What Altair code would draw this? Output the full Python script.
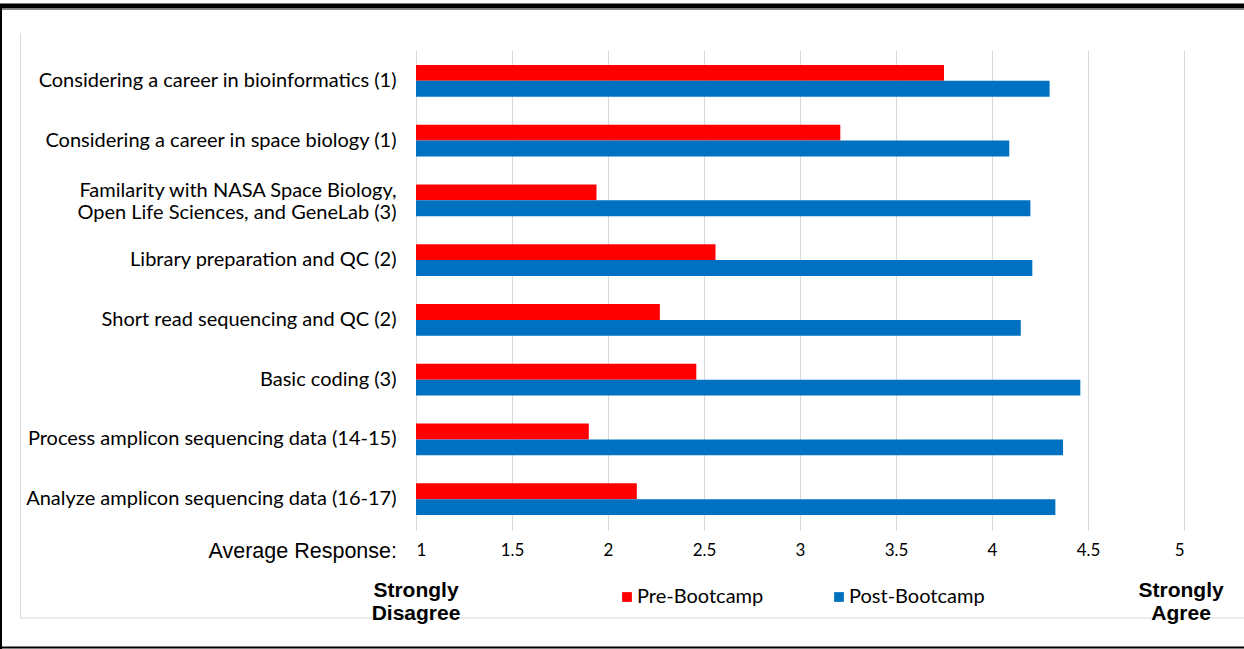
import altair as alt
import pandas as pd

categories = [
    "Considering a career in bioinformatics (1)",
    "Considering a career in space biology (1)",
    "Familarity with NASA Space Biology,|Open Life Sciences, and GeneLab (3)",
    "Library preparation and QC (2)",
    "Short read sequencing and QC (2)",
    "Basic coding (3)",
    "Process amplicon sequencing data (14-15)",
    "Analyze amplicon sequencing data (16-17)",
]
pre_values = [3.75, 3.21, 1.94, 2.56, 2.27, 2.46, 1.90, 2.15]
post_values = [4.30, 4.09, 4.20, 4.21, 4.15, 4.46, 4.37, 4.33]
series = ["Pre-Bootcamp", "Post-Bootcamp"]
colors = ["#FF0000", "#0070C0"]
x_ticks = [1, 1.5, 2, 2.5, 3, 3.5, 4, 4.5, 5]

rows = []
for c, a, b in zip(categories, pre_values, post_values):
    rows.append({"cat": c, "series": series[0], "value": a})
    rows.append({"cat": c, "series": series[1], "value": b})
df = pd.DataFrame(rows)

LABEL_FONT = "Lato"

bars = alt.Chart(df).mark_bar().encode(
    y=alt.Y("cat:N", sort=categories,
            scale=alt.Scale(paddingInner=0.4667, paddingOuter=0.25),
            axis=alt.Axis(title=None, labelExpr="split(datum.label, '|')",
                          labelFont=LABEL_FONT, labelFontSize=20, labelColor="#000",
                          labelLineHeight=22, labelPadding=20, labelLimit=420,
                          labelOffset=alt.expr("indexof(datum.value, '|') >= 0 ? -9.5 : 0"),
                          ticks=False, domain=False, grid=False)),
    yOffset=alt.YOffset("series:N", sort=series,
                        scale=alt.Scale(domain=series, paddingInner=0, paddingOuter=0)),
    x=alt.X("value:Q", scale=alt.Scale(domain=[1, 5], nice=False, zero=False),
            axis=alt.Axis(title=None, values=x_ticks, format="~g",
                          labelFont=LABEL_FONT, labelFontSize=17, labelColor="#000",
                          labelPadding=12, ticks=False, domain=False,
                          grid=True, gridColor="#d9d9d9", gridWidth=1)),
    x2=alt.datum(1),
    color=alt.Color("series:N", sort=series,
                    scale=alt.Scale(domain=series, range=colors),
                    legend=alt.Legend(title=None, orient="none", direction="horizontal",
                                      legendX=201, legendY=537,
                                      symbolType="square", symbolSize=95,
                                      symbolStrokeWidth=0, labelFont=LABEL_FONT,
                                      labelFontSize=20, labelColor="#000",
                                      labelOffset=0, columnPadding=65)),
)

one = alt.Data(values=[{}])

avg_text = alt.Chart(one).mark_text(
    text="Average Response:", font="Liberation Sans", fontSize=21.5,
    align="right", baseline="middle", color="#000"
).encode(x=alt.value(-19), y=alt.value(502))

sd_text = alt.Chart(one).mark_text(
    text=["Strongly", "Disagree"], font="Liberation Sans", fontSize=21,
    fontWeight="bold", align="center", baseline="middle", lineHeight=23, color="#000"
).encode(x=alt.datum(1), y=alt.value(541))

sa_text = alt.Chart(one).mark_text(
    text=["Strongly", "Agree"], font="Liberation Sans", fontSize=21,
    fontWeight="bold", align="center", baseline="middle", lineHeight=23, color="#000"
).encode(x=alt.datum(4.985), y=alt.value(541))


def rule(x, x2, y, y2, color, w):
    return alt.Chart(one).mark_rule(color=color, strokeWidth=w).encode(
        x=alt.value(x), x2=alt.value(x2), y=alt.value(y), y2=alt.value(y2))


frame = [
    rule(-416, 828, -44, -44, "#000", 5),
    rule(-416, 828, -40.5, -40.5, "#888", 1),
    rule(-415, -415, -42, 599, "#000", 2),
    rule(-416, 828, 597.5, 597.5, "#000", 2),
    rule(-395.5, -395.5, -17, 568, "#d9d9d9", 1),
    rule(-396, 828, 568, 568, "#d9d9d9", 1),
]

chart = alt.layer(*frame, bars, avg_text, sd_text, sa_text).properties(
    width=768, height=480,
    padding={"left": 416, "top": 50, "right": 60, "bottom": 119},
    autosize=alt.AutoSizeParams(type="none"),
    background="white",
).configure_view(stroke=None)

chart.save("out.html", embed_options={"renderer": "svg", "actions": False})
